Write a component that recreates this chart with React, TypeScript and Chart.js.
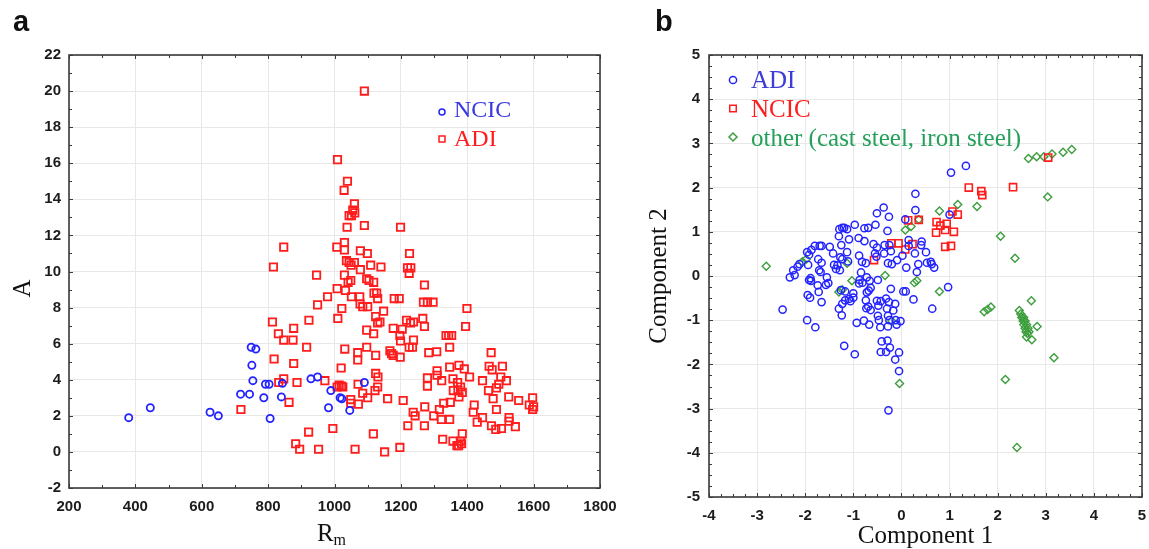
import React, { useEffect, useRef } from "react";
import { Chart, registerables } from "chart.js";

Chart.register(...registerables);

type Pt = [number, number];

// ---------- Panel a: A vs Rm ----------
const panelALabel = "a";
const panelAXTitleMain = "R";
const panelAXTitleSub = "m";
const panelAYTitle = "A";
const panelASeriesNames = ["NCIC", "ADI"];

const ncicA: Pt[] = [
  [380, 1.9], [445, 2.45], [625, 2.2], [650, 2.0], [717, 3.2], [744, 3.2], [749, 5.8], [763, 5.7],
  [751, 4.8], [754, 3.95], [787, 3.0], [792, 3.75], [803, 3.75], [806, 1.85], [840, 3.05], [843, 3.8],
  [929, 4.05], [949, 4.15], [982, 2.45], [989, 3.4], [1017, 3.0], [1022, 2.95], [1046, 2.3], [1090, 3.85],
];

const adiA: Pt[] = [
  [1090, 20.0], [1009, 16.2], [1039, 15.0], [1029, 14.5], [1060, 13.75], [1055, 13.4], [1061, 13.25], [1044, 13.1],
  [1051, 13.1], [1038, 12.45], [1090, 12.55], [1199, 12.45],
  [847, 11.35], [1007, 11.35], [1030, 11.6], [1030, 11.2], [1078, 11.15], [1099, 11.0], [1226, 11.0],
  [816, 10.25], [1036, 10.6], [1044, 10.5], [1050, 10.35], [1060, 10.5], [1078, 10.1], [1109, 10.35], [1140, 10.25],
  [1220, 10.2], [1230, 10.2], [1225, 9.9],
  [946, 9.8], [1030, 9.8], [1041, 9.4], [1049, 9.5], [1097, 9.6], [1104, 9.5], [1118, 9.4], [1271, 9.25],
  [1008, 9.05], [1033, 8.95], [1051, 8.6], [979, 8.6], [1076, 8.6], [1119, 8.8], [1127, 8.8], [1130, 8.5],
  [1180, 8.5], [1195, 8.5], [1268, 8.3], [1280, 8.3], [1297, 8.3],
  [949, 8.15], [1077, 8.2], [1085, 8.05], [1100, 8.05], [1022, 7.95], [1148, 7.8], [1399, 7.95],
  [923, 7.3], [1010, 7.4], [1124, 7.5], [1130, 7.15], [1137, 7.2], [1217, 7.3], [1229, 7.15], [1238, 7.2],
  [1266, 7.4], [813, 7.2], [1271, 6.95], [1395, 6.95],
  [877, 6.85], [831, 6.55], [1177, 6.85], [1204, 6.8], [1197, 6.45], [1097, 6.75], [1118, 6.55], [1336, 6.45],
  [1344, 6.45], [1353, 6.45],
  [847, 6.2], [875, 6.2], [1199, 6.15], [1238, 6.2],
  [916, 5.8], [1031, 5.7], [1097, 5.8], [1225, 5.8], [1235, 5.8], [1347, 5.8],
  [1070, 5.5], [1167, 5.6], [1172, 5.45], [1177, 5.35], [1284, 5.5], [1308, 5.55], [1472, 5.5],
  [1070, 5.1], [1124, 5.35], [1198, 5.25], [818, 5.15], [877, 4.9],
  [1020, 4.65], [1347, 4.7], [1375, 4.8], [1391, 4.6], [1466, 4.75], [1475, 4.55], [1506, 4.75], [1309, 4.5],
  [1124, 4.35], [1131, 4.15], [1309, 4.25], [1280, 4.1], [1280, 3.65], [1407, 4.15], [1446, 3.95], [1501, 4.15],
  [1518, 3.95], [1323, 3.95], [1357, 4.05], [1371, 3.85], [1380, 3.6], [1385, 3.3], [1372, 3.4], [1358, 3.4],
  [1375, 3.05],
  [971, 3.95], [847, 4.05], [832, 3.85], [887, 3.85], [1008, 3.6], [1014, 3.7], [1021, 3.65], [1071, 3.75],
  [1025, 3.6], [1122, 3.4], [1130, 3.6], [1464, 3.4], [1488, 3.55], [1495, 3.75],
  [1085, 3.25], [1049, 2.9], [1049, 2.7], [1100, 3.0], [1160, 2.95], [1478, 2.95], [1525, 3.05],
  [863, 2.75], [1072, 2.65], [1207, 2.85], [1349, 2.75], [1329, 2.7], [1555, 2.85], [1597, 3.0], [1587, 2.6],
  [1600, 2.5], [1597, 2.35],
  [718, 2.35], [1272, 2.5], [1316, 2.35], [1421, 2.6], [1488, 2.35], [1418, 2.2], [1237, 2.2], [1243, 2.0],
  [1299, 2.0], [1322, 1.8], [1347, 1.8], [1446, 1.9], [1526, 1.9], [1526, 1.7], [1430, 1.65],
  [1221, 1.45], [1271, 1.45], [1473, 1.45], [1486, 1.25], [1503, 1.3], [1545, 1.4], [995, 1.3], [922, 1.1],
  [1117, 1.0], [1385, 1.0],
  [1380, 0.6], [1383, 0.45], [1326, 0.7], [1357, 0.6], [1369, 0.35], [1374, 0.35], [883, 0.45], [895, 0.15],
  [952, 0.15], [1062, 0.15], [1151, 0.0], [1197, 0.25],
];

const xTicksA = { min: 200, max: 1800, step: 200, minor: 100 };
const yTicksA = { min: -2, max: 22, step: 2, minor: 1 };

// ---------- Panel b: PCA components ----------
const panelBLabel = "b";
const panelBXTitle = "Component 1";
const panelBYTitle = "Component 2";
const panelBSeriesNames = ["ADI", "NCIC", "other (cast steel, iron steel)"];

const adiB: Pt[] = [
  [-2.47, -0.76], [-2.32, -0.03], [-2.25, 0.13], [-2.16, 0.21], [-2.12, 0.27], [-2.22, 0.02], [-1.96, 0.54],
  [-1.92, 0.48], [-1.87, 0.59], [-1.94, 0.25], [-1.89, -0.05], [-1.88, -0.11], [-1.92, -0.09], [-1.95, -0.43],
  [-1.9, -0.49], [-1.96, -1.0], [-1.79, -1.16], [-1.8, 0.68], [-1.7, 0.68], [-1.66, 0.68], [-1.73, 0.38],
  [-1.66, 0.3], [-1.71, 0.13], [-1.68, 0.09], [-1.74, -0.21], [-1.72, -0.36], [-1.66, -0.59], [-1.55, -0.03],
  [-1.52, -0.16], [-1.57, -0.2], [-1.49, 0.66], [-1.42, 0.51], [-1.4, 0.25], [-1.36, 0.16], [-1.33, 0.24],
  [-1.28, 0.13], [-1.29, 1.06], [-1.23, 1.09], [-1.19, 1.09], [-1.13, 1.06], [-1.3, 0.9], [-1.25, 0.7],
  [-1.27, 0.42], [-1.23, 0.38], [-1.13, 0.54], [-1.11, 0.33], [-1.26, -0.32], [-1.17, -0.35], [-1.3, -0.74],
  [-1.24, -0.89], [-1.23, -0.63], [-1.17, -0.55], [-1.09, -0.52], [-1.06, -0.57], [-1.19, -1.58], [-1.09, 0.83],
  [-0.97, 1.16], [-0.97, -1.77], [-0.93, -1.06], [-1.0, -0.39], [-1.0, -0.49], [-0.89, 0.86], [-0.77, 0.79],
  [-0.88, 0.46], [-0.82, 0.32], [-0.87, -0.09], [-0.88, -0.17], [-0.81, -0.15], [-0.84, 0.08], [-0.77, 1.08],
  [-0.69, 1.09], [-0.74, 0.29], [-0.72, -0.03], [-0.66, -0.11], [-0.72, -0.37], [-0.68, -0.33], [-0.64, -0.27],
  [-0.74, -0.55], [-0.73, -0.73], [-0.64, -0.77], [-0.69, -0.69], [-0.78, -1.01], [-0.67, -1.1], [-0.58, 0.72],
  [-0.55, 0.51], [-0.52, 0.44], [-0.51, 0.64], [-0.54, 1.16], [-0.51, 1.42], [-0.49, -0.09], [-0.51, -0.56],
  [-0.43, -0.57], [-0.48, -0.67], [-0.49, -0.9], [-0.47, -1.0], [-0.44, -1.16], [-0.37, 1.55], [-0.36, 0.51],
  [-0.35, 0.7], [-0.41, -1.48], [-0.43, -1.72], [-0.32, -1.72], [-0.29, -1.46], [-0.26, 1.34], [-0.29, 1.02],
  [-0.25, 0.7], [-0.22, 0.56], [-0.28, 0.29], [-0.2, 0.27], [-0.32, -0.51], [-0.26, -0.59], [-0.3, -0.74],
  [-0.28, -0.9], [-0.25, -1.0], [-0.28, -1.14], [-0.24, -1.62], [-0.27, -3.04], [-0.22, -0.29], [-0.17, -0.78],
  [-0.13, -0.63], [-0.12, -1.0], [-0.1, -1.1], [-0.13, -1.89], [-0.05, -1.73], [-0.05, -2.15], [-0.02, -1.02],
  [-0.09, 0.36], [0.02, 0.46], [0.04, -0.35], [0.09, -0.35], [0.1, 0.19], [0.08, 1.28], [0.15, 0.81],
  [0.15, 0.68], [0.25, -0.53], [0.28, 0.51], [0.29, 1.49], [0.29, 1.86], [0.32, 0.09], [0.35, 0.27],
  [0.41, 0.7], [0.42, 0.78], [0.51, 0.54], [0.53, 0.3], [0.61, 0.32], [0.63, 0.27], [0.68, 0.19],
  [0.64, -0.74], [0.97, -0.25], [1.0, 1.39], [1.03, 2.34], [1.34, 2.49],
];

const ncicB: Pt[] = [
  [-0.57, 0.36], [-0.21, 0.74], [-0.06, 0.74], [0.08, 0.6], [0.14, 1.26], [0.36, 1.27], [0.23, 0.72],
  [0.73, 1.22], [0.72, 0.98], [0.81, 1.14], [0.91, 1.04], [0.94, 1.18], [1.09, 1.0], [0.91, 0.66],
  [1.03, 0.68], [1.06, 1.46], [1.17, 1.39], [1.4, 2.0], [1.66, 1.92], [1.68, 1.83], [2.32, 2.01], [3.05, 2.68],
];

const otherB: Pt[] = [
  [-2.81, 0.22], [-2.06, 0.32], [-1.98, 0.38], [-1.13, 0.29], [-1.03, -0.11], [-1.3, -0.36], [-1.23, -0.31],
  [-0.34, 0.01], [-0.2, -1.02], [-0.04, -2.43], [0.08, 1.04], [0.2, 1.12], [0.27, -0.15], [0.32, -0.11],
  [0.36, 1.28], [0.79, 1.47], [0.79, -0.35], [1.17, 1.62], [1.57, 1.57], [1.72, -0.81], [1.79, -0.76],
  [1.86, -0.7], [2.06, 0.9], [2.16, -2.34], [2.36, 0.4], [2.4, -3.88], [2.7, -0.56], [2.82, -1.14],
  [2.71, -1.44], [3.04, 1.79], [3.17, -1.85], [2.64, 2.66], [2.81, 2.7], [2.96, 2.7], [3.13, 2.76],
  [3.36, 2.8], [3.54, 2.86],
  [2.45, -0.78], [2.48, -0.86], [2.5, -0.94], [2.53, -1.02], [2.54, -1.1], [2.57, -1.18], [2.59, -1.26],
  [2.62, -1.3], [2.54, -0.94], [2.57, -1.02], [2.6, -1.1], [2.63, -1.18], [2.65, -1.26], [2.6, -1.38],
];

const xTicksB = { min: -4, max: 5, step: 1, minor: 0.25 };
const yTicksB = { min: -5, max: 5, step: 1, minor: 0.25 };

// ---------- styling ----------
const BLUE = "#2323ff";
const RED = "#ff1c1c";
const GREEN = "#3c9e3c";
const GRID = "#e8e8e8";
const FRAME = "#3a3a3a";
const TICK_FONT = { family: '"Liberation Sans", Arial, sans-serif', size: 15, weight: "bold" as const };
const SERIF = '"Liberation Serif", "Times New Roman", serif';

const toXY = (arr: Pt[]) => arr.map(([x, y]) => ({ x, y }));

function drawMarker(ctx: CanvasRenderingContext2D, style: string, x: number, y: number, r: number) {
  ctx.beginPath();
  if (style === "circle") {
    ctx.arc(x, y, r, 0, Math.PI * 2);
  } else if (style === "rect") {
    const s = r * Math.SQRT1_2;
    ctx.rect(x - s, y - s, 2 * s, 2 * s);
  } else {
    ctx.moveTo(x - r, y);
    ctx.lineTo(x, y - r);
    ctx.lineTo(x + r, y);
    ctx.lineTo(x, y + r);
    ctx.closePath();
  }
  ctx.stroke();
}

function framePlugin(tx: { step: number; minor: number }, ty: { step: number; minor: number }) {
  return {
    id: "frameTicks",
    beforeDatasetsDraw(chart: any) {
      const { ctx, chartArea } = chart;
      const { left, right, top, bottom } = chartArea;
      const xs = chart.scales.x;
      const ys = chart.scales.y;
      ctx.save();
      ctx.strokeStyle = FRAME;
      ctx.lineWidth = 1;
      ctx.beginPath();
      const nx = Math.round((xs.max - xs.min) / tx.minor);
      for (let i = 0; i <= nx; i++) {
        const v = xs.min + i * tx.minor;
        const major = Math.abs(v / tx.step - Math.round(v / tx.step)) < 1e-6;
        const L = major ? 4 : 3;
        const px = Math.round(xs.getPixelForValue(v)) + 0.5;
        ctx.moveTo(px, bottom);
        ctx.lineTo(px, bottom - L);
        ctx.moveTo(px, top);
        ctx.lineTo(px, top + L);
      }
      const ny = Math.round((ys.max - ys.min) / ty.minor);
      for (let i = 0; i <= ny; i++) {
        const v = ys.min + i * ty.minor;
        const major = Math.abs(v / ty.step - Math.round(v / ty.step)) < 1e-6;
        const L = major ? 4 : 3;
        const py = Math.round(ys.getPixelForValue(v)) + 0.5;
        ctx.moveTo(left, py);
        ctx.lineTo(left + L, py);
        ctx.moveTo(right, py);
        ctx.lineTo(right - L, py);
      }
      ctx.stroke();
      ctx.lineWidth = 1.6;
      ctx.strokeRect(left, top, right - left, bottom - top);
      ctx.restore();
    },
  };
}

function legendPlugin(opts: {
  x: number; textX: number; ys: number[]; baselines: number[]; radii: number[]; font: string; textColors: string[];
}) {
  return {
    id: "insideLegend",
    afterDraw(chart: any) {
      const ctx = chart.ctx as CanvasRenderingContext2D;
      ctx.save();
      chart.data.datasets.forEach((ds: any, i: number) => {
        ctx.strokeStyle = ds.borderColor;
        ctx.lineWidth = 1.5;
        drawMarker(ctx, ds.pointStyle, opts.x, opts.ys[i], opts.radii[i]);
        ctx.fillStyle = opts.textColors[i];
        ctx.font = opts.font;
        ctx.textAlign = "left";
        ctx.textBaseline = "alphabetic";
        ctx.fillText(ds.label, opts.textX, opts.baselines[i]);
      });
      ctx.restore();
    },
  };
}

function panelLetterPlugin(text: string, x: number, y: number) {
  return {
    id: "panelLetter",
    afterDraw(chart: any) {
      const ctx = chart.ctx as CanvasRenderingContext2D;
      ctx.save();
      ctx.fillStyle = "#111";
      ctx.font = 'bold 29px "Liberation Sans", Arial, sans-serif';
      ctx.textAlign = "left";
      ctx.textBaseline = "alphabetic";
      ctx.fillText(text, x, y);
      ctx.restore();
    },
  };
}

const titlesAPlugin = {
  id: "titlesA",
  afterDraw(chart: any) {
    const ctx = chart.ctx as CanvasRenderingContext2D;
    const { chartArea } = chart;
    ctx.save();
    ctx.fillStyle = "#111";
    ctx.textBaseline = "alphabetic";
    // y title, rotated
    ctx.font = `25px ${SERIF}`;
    ctx.translate(30, (chartArea.top + chartArea.bottom) / 2 + 17);
    ctx.rotate(-Math.PI / 2);
    ctx.textAlign = "center";
    ctx.fillText(panelAYTitle, 0, 0);
    ctx.setTransform(1, 0, 0, 1, 0, 0);
    // x title with subscript
    ctx.textAlign = "left";
    ctx.font = `25px ${SERIF}`;
    const wMain = ctx.measureText(panelAXTitleMain).width;
    ctx.font = `16px ${SERIF}`;
    const wSub = ctx.measureText(panelAXTitleSub).width;
    const cx = (chartArea.left + chartArea.right) / 2 - 3;
    const x0 = cx - (wMain + wSub) / 2;
    ctx.font = `25px ${SERIF}`;
    ctx.fillText(panelAXTitleMain, x0, 541);
    ctx.font = `16px ${SERIF}`;
    ctx.fillText(panelAXTitleSub, x0 + wMain, 545);
    ctx.restore();
  },
};

function axisOpts(t: { min: number; max: number; step: number }, pad: number, fit: (s: any) => void, extra: any = {}) {
  return {
    type: "linear" as const,
    min: t.min,
    max: t.max,
    afterFit: fit,
    ticks: {
      stepSize: t.step,
      font: TICK_FONT,
      color: "#1c1c1c",
      padding: pad,
      maxRotation: 0,
      autoSkip: false,
      callback: (v: any) => String(v),
    },
    grid: { color: GRID, lineWidth: 1, drawTicks: false },
    border: { display: false },
    ...extra,
  };
}

export default function App() {
  const refA = useRef<HTMLCanvasElement>(null);
  const refB = useRef<HTMLCanvasElement>(null);

  useEffect(() => {
    const chartA = new Chart(refA.current as HTMLCanvasElement, {
      type: "scatter",
      data: {
        datasets: [
          {
            label: panelASeriesNames[0],
            data: toXY(ncicA),
            pointStyle: "circle",
            pointRadius: 3.6,
            pointBorderWidth: 1.8,
            borderColor: BLUE,
            backgroundColor: "rgba(0,0,0,0)",
          },
          {
            label: panelASeriesNames[1],
            data: toXY(adiA),
            pointStyle: "rect",
            pointRadius: 5.2,
            pointBorderWidth: 1.8,
            borderColor: RED,
            backgroundColor: "rgba(0,0,0,0)",
          },
        ],
      },
      options: {
        responsive: false,
        animation: false,
        events: [],
        layout: { padding: { left: 0, top: 55, right: 30, bottom: 0 } },
        plugins: { legend: { display: false }, tooltip: { enabled: false } },
        scales: {
          x: axisOpts(xTicksA, 10, (s: any) => { s.height = 61; s.paddingLeft = 0; s.paddingRight = 0; }, { position: "bottom" }),
          y: axisOpts(yTicksA, 8, (s: any) => { s.width = 69; }, { position: "left" }),
        },
      } as any,
      plugins: [
        framePlugin(xTicksA, yTicksA),
        legendPlugin({
          x: 442, textX: 454, ys: [112, 139], baselines: [117, 146], radii: [3, 4.2],
          font: `24px ${SERIF}`, textColors: ["#3a3ae0", "#ff1c1c"],
        }),
        titlesAPlugin,
        panelLetterPlugin(panelALabel, 13, 31),
      ] as any,
    });

    const chartB = new Chart(refB.current as HTMLCanvasElement, {
      type: "scatter",
      data: {
        datasets: [
          {
            label: panelBSeriesNames[0],
            data: toXY(adiB),
            pointStyle: "circle",
            pointRadius: 3.6,
            pointBorderWidth: 1.5,
            borderColor: BLUE,
            backgroundColor: "rgba(0,0,0,0)",
          },
          {
            label: panelBSeriesNames[1],
            data: toXY(ncicB),
            pointStyle: "rect",
            pointRadius: 5,
            pointBorderWidth: 1.6,
            borderColor: RED,
            backgroundColor: "rgba(0,0,0,0)",
          },
          {
            label: panelBSeriesNames[2],
            data: toXY(otherB),
            pointStyle: "rectRot",
            pointRadius: 4,
            pointBorderWidth: 1.4,
            borderColor: GREEN,
            backgroundColor: "rgba(0,0,0,0)",
          },
        ],
      },
      options: {
        responsive: false,
        animation: false,
        events: [],
        layout: { padding: { left: 0, top: 55, right: 7, bottom: 0 } },
        plugins: { legend: { display: false }, tooltip: { enabled: false } },
        scales: {
          x: axisOpts(xTicksB, 10, (s: any) => { s.height = 52; s.paddingLeft = 0; s.paddingRight = 0; }, {
            position: "bottom",
            title: {
              display: true,
              text: panelBXTitle,
              color: "#111",
              font: { family: SERIF, size: 25, lineHeight: 1 },
              padding: { top: 0, bottom: 0 },
            },
          }),
          y: axisOpts(yTicksB, 9, (s: any) => { s.width = 109; }, {
            position: "left",
            title: {
              display: true,
              text: panelBYTitle,
              color: "#111",
              font: { family: SERIF, size: 25, lineHeight: 1 },
              padding: { top: 47, bottom: 0 },
            },
          }),
        },
      } as any,
      plugins: [
        framePlugin(xTicksB, yTicksB),
        legendPlugin({
          x: 133, textX: 151, ys: [80, 108.5, 137], baselines: [88, 117, 146], radii: [3.6, 4.6, 4],
          font: `25px ${SERIF}`, textColors: ["#3c3cd8", "#ff1c1c", "#25a05a"],
        }),
        panelLetterPlugin(panelBLabel, 55, 31),
      ] as any,
    });

    return () => {
      chartA.destroy();
      chartB.destroy();
    };
  }, []);

  return (
    <div
      style={{
        position: "fixed",
        left: 0,
        top: 0,
        width: 1149,
        height: 549,
        background: "#ffffff",
        overflow: "hidden",
      }}
    >
      <canvas
        ref={refA}
        width={630}
        height={549}
        style={{ position: "absolute", left: 0, top: 0, width: 630, height: 549 }}
      />
      <canvas
        ref={refB}
        width={549}
        height={549}
        style={{ position: "absolute", left: 600, top: 0, width: 549, height: 549 }}
      />
    </div>
  );
}
